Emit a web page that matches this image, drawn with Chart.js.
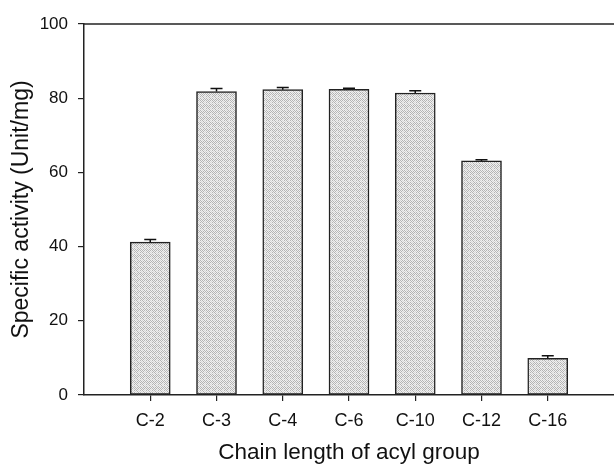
<!DOCTYPE html>
<html>
<head>
<meta charset="utf-8">
<script src="https://cdn.jsdelivr.net/npm/chart.js@4.4.1/dist/chart.umd.min.js"></script>
<style>
  html, body { margin: 0; padding: 0; background: #fff; }
  #wrap { width: 614px; height: 466px; }
</style>
</head>
<body>
<div id="wrap"><canvas id="chart" width="614" height="466"></canvas></div>
<script>
// data
const categories = ['C-2', 'C-3', 'C-4', 'C-6', 'C-10', 'C-12', 'C-16'];
const activity = [41.2, 81.8, 82.3, 82.4, 81.4, 63.1, 9.9];
const errors = [0.7, 0.8, 0.6, 0.3, 0.6, 0.3, 0.7];
const yTicks = [0, 20, 40, 60, 80, 100];

// stippled grey fill like the scanned bars
function makePattern() {
    const c = document.createElement('canvas');
    c.width = 6; c.height = 6;
    const g = c.getContext('2d');
    g.fillStyle = '#f0f0f0';
    g.fillRect(0, 0, 6, 6);
    for (let y = 0; y < 6; y++) {
        for (let x = 0; x < 6; x++) {
            if ((x + y) % 2 === 0) {
                g.fillStyle = ((x * 3 + y * 5) % 7 < 2) ? '#d6d6d6' : '#b4b4b4';
                g.fillRect(x, y, 1, 1);
            }
        }
    }
    return g.createPattern(c, 'repeat');
}

const font = "'Liberation Sans', Arial, sans-serif";

// error bars + top frame line
const extras = {
    id: 'extras',
    afterDatasetsDraw(chart) {
        const ctx = chart.ctx;
        const meta = chart.getDatasetMeta(0);
        const ys = chart.scales.y;
        ctx.save();
        ctx.strokeStyle = '#111';
        ctx.lineWidth = 1.5;
        meta.data.forEach((bar, i) => {
            const x = bar.x;
            const top = ys.getPixelForValue(activity[i] + errors[i]);
            const base = ys.getPixelForValue(activity[i]);
            ctx.beginPath();
            ctx.moveTo(x, base);
            ctx.lineTo(x, top);
            ctx.moveTo(x - 6, top);
            ctx.lineTo(x + 6, top);
            ctx.stroke();
        });
        const a = chart.chartArea;
        ctx.strokeStyle = '#222';
        ctx.lineWidth = 1.5;
        ctx.beginPath();
        ctx.moveTo(a.left, a.top);
        ctx.lineTo(a.right, a.top);
        ctx.stroke();
        ctx.restore();
    }
};

const ctx = document.getElementById('chart').getContext('2d');
new Chart(ctx, {
    type: 'bar',
    data: {
        datasets: [{
            data: activity.map((v, i) => ({ x: i + 1, y: v })),
            backgroundColor: makePattern(),
            borderColor: '#222',
            borderWidth: 1.5,
            borderSkipped: false,
            barThickness: 40
        }]
    },
    options: {
        responsive: false,
        animation: false,
        layout: { padding: { top: 24, left: 0, right: 0, bottom: 0 } },
        plugins: { legend: { display: false }, tooltip: { enabled: false } },
        scales: {
            x: {
                type: 'linear',
                min: 0,
                max: 8,
                offset: false,
                afterBuildTicks(scale) {
                    scale.ticks = categories.map((c, i) => ({ value: i + 1 }));
                },
                afterFit(scale) { scale.height = 71; },
                ticks: {
                    callback: (v) => categories[v - 1],
                    autoSkip: false,
                    maxRotation: 0,
                    padding: 9,
                    color: '#111',
                    font: { family: font, size: 18 }
                },
                grid: { offset: false, drawOnChartArea: false, tickLength: 6, color: '#222', lineWidth: 1.2 },
                border: { display: true, color: '#222', width: 1.5 },
                title: {
                    display: true,
                    text: 'Chain length of acyl group',
                    color: '#111',
                    font: { family: font, size: 22.5 },
                    padding: { top: 0, bottom: 0 }
                }
            },
            y: {
                min: 0,
                max: 100,
                afterBuildTicks(scale) {
                    scale.ticks = yTicks.map(v => ({ value: v }));
                },
                afterFit(scale) { scale.width = 84; },
                ticks: {
                    padding: 10,
                    color: '#111',
                    font: { family: font, size: 17 }
                },
                grid: { drawOnChartArea: false, tickLength: 6, color: '#222', lineWidth: 1.2 },
                border: { display: true, color: '#222', width: 1.5 },
                title: {
                    display: true,
                    text: 'Specific activity (Unit/mg)',
                    color: '#111',
                    font: { family: font, size: 23 },
                    padding: { top: 8, bottom: 0 }
                }
            }
        }
    },
    plugins: [extras]
});
</script>
</body>
</html>
